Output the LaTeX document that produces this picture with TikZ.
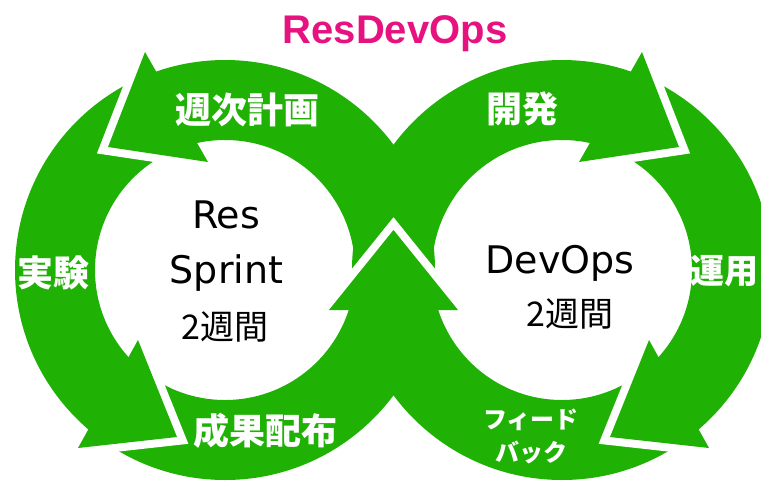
\documentclass[tikz,border=0pt]{standalone}
\usepackage{fontspec}
\setmainfont{DejaVu Sans}
\newfontfamily\jp{Noto Sans CJK JP}
\newfontfamily\titlefont{Liberation Sans}
\definecolor{loopgreen}{RGB}{31,177,4}
\definecolor{titlepink}{RGB}{230,18,128}

% arrow head: outer barb, tip, inner barb; a white band separates it from the tail ahead
\newcommand\ringhead[3]{%
  \draw[headgap] #1 -- #2 -- #3;
  \fill[loopgreen] #1 -- #2 -- #3 -- cycle;}

\begin{document}
\begin{tikzpicture}[x=1pt,y=-1pt,
  headgap/.style={draw=white,line width=16pt,line join=miter,line cap=butt},
  stagelabel/.style={text=white,inner sep=0pt,font=\jp\bfseries\fontsize{36}{40}\selectfont},
  smalllabel/.style={text=white,inner sep=0pt,font=\jp\bfseries\fontsize{24}{28}\selectfont},
  sprintlabel/.style={text=black,inner sep=0pt,font=\fontsize{38}{42}\selectfont},
  weeklabel/.style={text=black,inner sep=0pt,font=\jp\fontsize{34}{38}\selectfont}]
\useasboundingbox (0,0) rectangle (761,480);
\clip (0,0) rectangle (761,480);

\coordinate (L) at (225,270);
\coordinate (R) at (562,270);

% the two rings
\fill[loopgreen,even odd rule] (L) circle[radius=210] (L) circle[radius=130];
\fill[loopgreen,even odd rule] (R) circle[radius=210] (R) circle[radius=130];

% left ring heads (counter-clockwise)
\ringhead{(145,52)}{(108,147)}{(208,162)}
\ringhead{(78,448)}{(177,437)}{(138,340)}
% right ring heads (clockwise)
\ringhead{(642,52)}{(679,147)}{(579,162)}
\ringhead{(709,448)}{(610,437)}{(649,340)}
% shared head in the middle
\ringhead{(458,310)}{(393.5,230)}{(329,310)}

% title
\node[anchor=base,inner sep=0pt,text=titlepink,font=\titlefont\bfseries\fontsize{40}{44}\selectfont]
  (title) at (395,43) {ResDevOps};

% stage labels
\node[stagelabel] (plan) at (247.5,110) {週次計画};
\node[stagelabel] (experiment) at (53.5,272.5) {実験};
\node[stagelabel] (deliver) at (265,431) {成果配布};
\node[stagelabel] (develop) at (522.5,109) {開発};
\node[stagelabel,anchor=east,font=\jp\bfseries\fontsize{34}{38}\selectfont]
  (operate) at (759,271.5) {運用};
\node[smalllabel] (feed) at (531,419.5) {フィード};
\node[smalllabel] (back) at (531,452) {バック};

% ring centres
\node[sprintlabel,anchor=base] (res) at (226,228) {Res};
\node[sprintlabel,anchor=base] (sprint) at (226.5,283) {Sprint};
\node[weeklabel] (weeksL) at (225,327) {2週間};
\node[sprintlabel,anchor=base] (devops) at (560,273) {DevOps};
\node[weeklabel] (weeksR) at (570,314) {2週間};
\end{tikzpicture}
\end{document}
